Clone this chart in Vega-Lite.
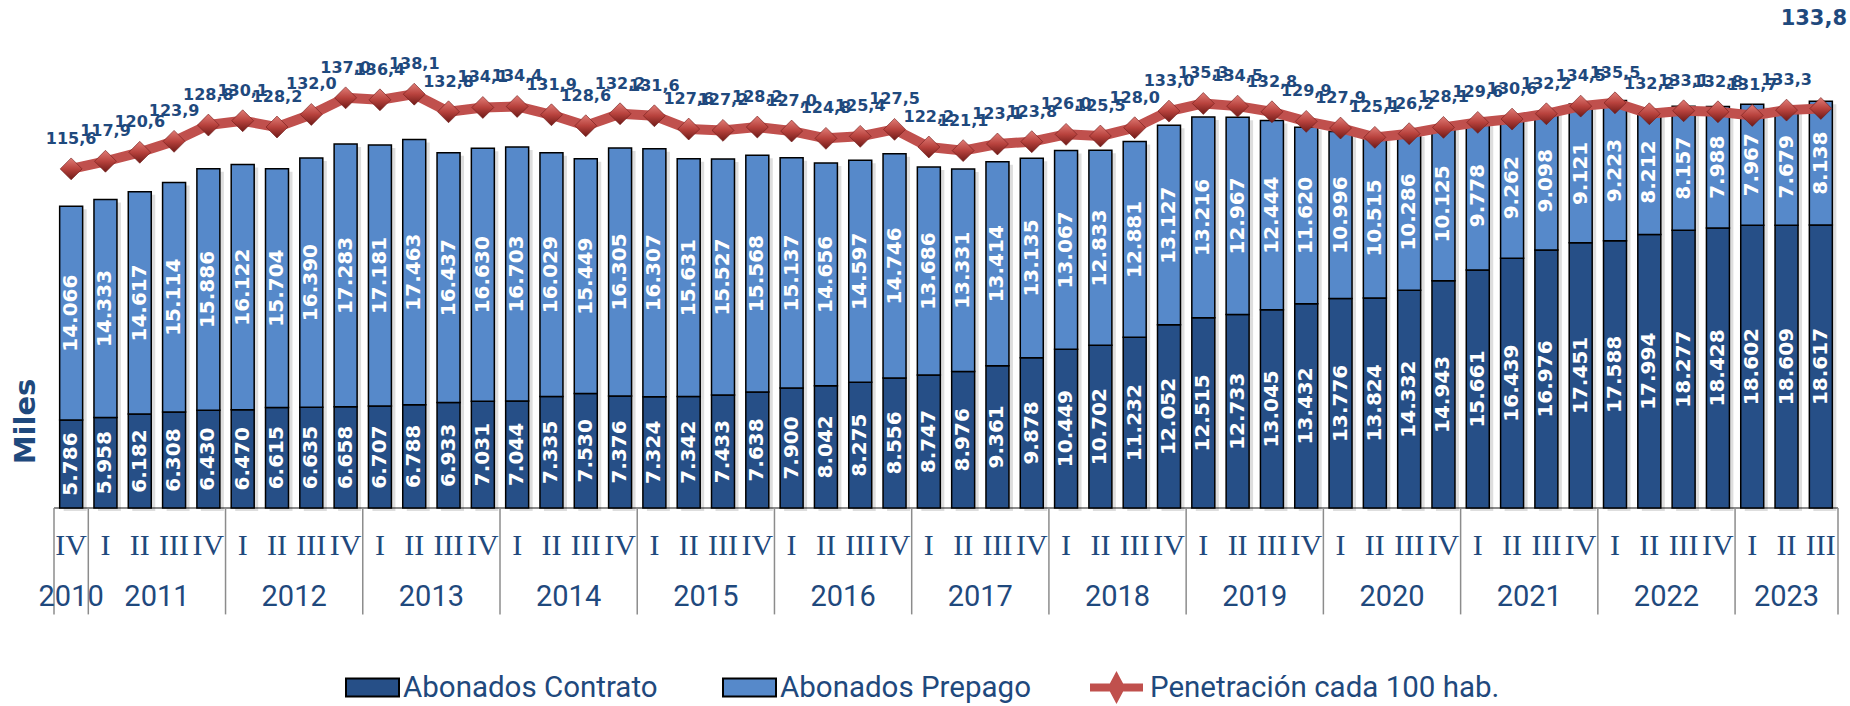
{
  "$schema": "https://vega.github.io/schema/vega-lite/v6.json",
  "width": 1784,
  "height": 456,
  "autosize": {"type": "none"},
  "padding": {"left": 54, "top": 52, "right": 12, "bottom": 198},
  "background": "white",
  "config": {
    "view": {"stroke": null},
    "locale": {"number": {"decimal": ",", "thousands": ".", "grouping": [3], "currency": ["", " €"]}}
  },
  "data": {"values": [
    {"id": "2010-IV", "year": "2010", "q": "IV", "Abonados Contrato": 5786, "Abonados Prepago": 14066, "pen": 115.6},
    {"id": "2011-I", "year": "2011", "q": "I", "Abonados Contrato": 5958, "Abonados Prepago": 14333, "pen": 117.9},
    {"id": "2011-II", "year": "2011", "q": "II", "Abonados Contrato": 6182, "Abonados Prepago": 14617, "pen": 120.6},
    {"id": "2011-III", "year": "2011", "q": "III", "Abonados Contrato": 6308, "Abonados Prepago": 15114, "pen": 123.9},
    {"id": "2011-IV", "year": "2011", "q": "IV", "Abonados Contrato": 6430, "Abonados Prepago": 15886, "pen": 128.8},
    {"id": "2012-I", "year": "2012", "q": "I", "Abonados Contrato": 6470, "Abonados Prepago": 16122, "pen": 130.1},
    {"id": "2012-II", "year": "2012", "q": "II", "Abonados Contrato": 6615, "Abonados Prepago": 15704, "pen": 128.2},
    {"id": "2012-III", "year": "2012", "q": "III", "Abonados Contrato": 6635, "Abonados Prepago": 16390, "pen": 132.0},
    {"id": "2012-IV", "year": "2012", "q": "IV", "Abonados Contrato": 6658, "Abonados Prepago": 17283, "pen": 137.0},
    {"id": "2013-I", "year": "2013", "q": "I", "Abonados Contrato": 6707, "Abonados Prepago": 17181, "pen": 136.4},
    {"id": "2013-II", "year": "2013", "q": "II", "Abonados Contrato": 6788, "Abonados Prepago": 17463, "pen": 138.1},
    {"id": "2013-III", "year": "2013", "q": "III", "Abonados Contrato": 6933, "Abonados Prepago": 16437, "pen": 132.8},
    {"id": "2013-IV", "year": "2013", "q": "IV", "Abonados Contrato": 7031, "Abonados Prepago": 16630, "pen": 134.1},
    {"id": "2014-I", "year": "2014", "q": "I", "Abonados Contrato": 7044, "Abonados Prepago": 16703, "pen": 134.4},
    {"id": "2014-II", "year": "2014", "q": "II", "Abonados Contrato": 7335, "Abonados Prepago": 16029, "pen": 131.9},
    {"id": "2014-III", "year": "2014", "q": "III", "Abonados Contrato": 7530, "Abonados Prepago": 15449, "pen": 128.6},
    {"id": "2014-IV", "year": "2014", "q": "IV", "Abonados Contrato": 7376, "Abonados Prepago": 16305, "pen": 132.2},
    {"id": "2015-I", "year": "2015", "q": "I", "Abonados Contrato": 7324, "Abonados Prepago": 16307, "pen": 131.6},
    {"id": "2015-II", "year": "2015", "q": "II", "Abonados Contrato": 7342, "Abonados Prepago": 15631, "pen": 127.6},
    {"id": "2015-III", "year": "2015", "q": "III", "Abonados Contrato": 7433, "Abonados Prepago": 15527, "pen": 127.2},
    {"id": "2015-IV", "year": "2015", "q": "IV", "Abonados Contrato": 7638, "Abonados Prepago": 15568, "pen": 128.2},
    {"id": "2016-I", "year": "2016", "q": "I", "Abonados Contrato": 7900, "Abonados Prepago": 15137, "pen": 127.0},
    {"id": "2016-II", "year": "2016", "q": "II", "Abonados Contrato": 8042, "Abonados Prepago": 14656, "pen": 124.8},
    {"id": "2016-III", "year": "2016", "q": "III", "Abonados Contrato": 8275, "Abonados Prepago": 14597, "pen": 125.4},
    {"id": "2016-IV", "year": "2016", "q": "IV", "Abonados Contrato": 8556, "Abonados Prepago": 14746, "pen": 127.5},
    {"id": "2017-I", "year": "2017", "q": "I", "Abonados Contrato": 8747, "Abonados Prepago": 13686, "pen": 122.2},
    {"id": "2017-II", "year": "2017", "q": "II", "Abonados Contrato": 8976, "Abonados Prepago": 13331, "pen": 121.1},
    {"id": "2017-III", "year": "2017", "q": "III", "Abonados Contrato": 9361, "Abonados Prepago": 13414, "pen": 123.1},
    {"id": "2017-IV", "year": "2017", "q": "IV", "Abonados Contrato": 9878, "Abonados Prepago": 13135, "pen": 123.8},
    {"id": "2018-I", "year": "2018", "q": "I", "Abonados Contrato": 10449, "Abonados Prepago": 13067, "pen": 126.0},
    {"id": "2018-II", "year": "2018", "q": "II", "Abonados Contrato": 10702, "Abonados Prepago": 12833, "pen": 125.5},
    {"id": "2018-III", "year": "2018", "q": "III", "Abonados Contrato": 11232, "Abonados Prepago": 12881, "pen": 128.0},
    {"id": "2018-IV", "year": "2018", "q": "IV", "Abonados Contrato": 12052, "Abonados Prepago": 13127, "pen": 133.0},
    {"id": "2019-I", "year": "2019", "q": "I", "Abonados Contrato": 12515, "Abonados Prepago": 13216, "pen": 135.3},
    {"id": "2019-II", "year": "2019", "q": "II", "Abonados Contrato": 12733, "Abonados Prepago": 12967, "pen": 134.5},
    {"id": "2019-III", "year": "2019", "q": "III", "Abonados Contrato": 13045, "Abonados Prepago": 12444, "pen": 132.8},
    {"id": "2019-IV", "year": "2019", "q": "IV", "Abonados Contrato": 13432, "Abonados Prepago": 11620, "pen": 129.9},
    {"id": "2020-I", "year": "2020", "q": "I", "Abonados Contrato": 13776, "Abonados Prepago": 10996, "pen": 127.9},
    {"id": "2020-II", "year": "2020", "q": "II", "Abonados Contrato": 13824, "Abonados Prepago": 10515, "pen": 125.1},
    {"id": "2020-III", "year": "2020", "q": "III", "Abonados Contrato": 14332, "Abonados Prepago": 10286, "pen": 126.2},
    {"id": "2020-IV", "year": "2020", "q": "IV", "Abonados Contrato": 14943, "Abonados Prepago": 10125, "pen": 128.1},
    {"id": "2021-I", "year": "2021", "q": "I", "Abonados Contrato": 15661, "Abonados Prepago": 9778, "pen": 129.6},
    {"id": "2021-II", "year": "2021", "q": "II", "Abonados Contrato": 16439, "Abonados Prepago": 9262, "pen": 130.6},
    {"id": "2021-III", "year": "2021", "q": "III", "Abonados Contrato": 16976, "Abonados Prepago": 9098, "pen": 132.2},
    {"id": "2021-IV", "year": "2021", "q": "IV", "Abonados Contrato": 17451, "Abonados Prepago": 9121, "pen": 134.5},
    {"id": "2022-I", "year": "2022", "q": "I", "Abonados Contrato": 17588, "Abonados Prepago": 9223, "pen": 135.5},
    {"id": "2022-II", "year": "2022", "q": "II", "Abonados Contrato": 17994, "Abonados Prepago": 8212, "pen": 132.2},
    {"id": "2022-III", "year": "2022", "q": "III", "Abonados Contrato": 18277, "Abonados Prepago": 8157, "pen": 133.1},
    {"id": "2022-IV", "year": "2022", "q": "IV", "Abonados Contrato": 18428, "Abonados Prepago": 7988, "pen": 132.8},
    {"id": "2023-I", "year": "2023", "q": "I", "Abonados Contrato": 18602, "Abonados Prepago": 7967, "pen": 131.7},
    {"id": "2023-II", "year": "2023", "q": "II", "Abonados Contrato": 18609, "Abonados Prepago": 7679, "pen": 133.3},
    {"id": "2023-III", "year": "2023", "q": "III", "Abonados Contrato": 18617, "Abonados Prepago": 8138, "pen": 133.8}
  ]},
  "resolve": {"scale": {"y": "independent"}},
  "layer": [
    {
      "mark": {"type": "rule", "color": "#8C8C8C", "strokeWidth": 1.5},
      "encoding": {
        "y": {
          "datum": 0, "type": "quantitative",
          "scale": {"domain": [0, 30000], "nice": false},
          "axis": {
            "title": "Miles", "labels": false, "ticks": false, "domain": false, "grid": false,
            "titleFont": "DejaVu Sans", "titleFontWeight": "bold", "titleFontSize": 29, "titleColor": "#1F497D",
            "titleX": -14, "titleY": 369
          }
        }
      }
    },
    {
      "layer": [
        {
          "transform": [{"fold": ["Abonados Contrato", "Abonados Prepago"], "as": ["serie", "v"]}],
          "layer": [
            {
              "mark": {"type": "bar", "width": {"band": 0.67}, "fill": "#000000", "opacity": 0.13, "xOffset": 4, "yOffset": 3},
              "encoding": {
                "x": {"field": "id", "type": "nominal", "sort": null, "scale": {"type": "band", "paddingInner": 0, "paddingOuter": 0}, "axis": null},
                "y": {"field": "v", "type": "quantitative", "stack": "zero", "scale": {"domain": [0, 30000], "nice": false}, "axis": null},
                "detail": {"field": "serie", "type": "nominal"},
                "order": {"field": "serie", "type": "nominal"}
              }
            },
            {
              "mark": {"type": "bar", "width": {"band": 0.67}, "stroke": "#000000", "strokeWidth": 1.5},
              "encoding": {
                "x": {"field": "id", "type": "nominal", "sort": null, "axis": null},
                "y": {"field": "v", "type": "quantitative", "stack": "zero", "axis": null},
                "color": {
                  "field": "serie", "type": "nominal",
                  "scale": {"domain": ["Abonados Contrato", "Abonados Prepago"], "range": ["#264F87", "#5689CA"]},
                  "legend": {
                    "orient": "none", "legendX": 291, "legendY": 608, "direction": "horizontal", "title": null,
                    "labelFont": "Roboto", "labelFontSize": 29.5, "labelColor": "#1F497D", "labelOffset": 3, "labelLimit": 0,
                    "symbolType": "M-1,-0.34H1V0.34H-1Z", "symbolSize": 2809, "columnPadding": 61, "padding": 0,
                    "symbolStrokeColor": "#000000", "symbolStrokeWidth": 2, "symbolOpacity": 1
                  }
                },
                "order": {"field": "serie", "type": "nominal"}
              }
            },
            {
              "mark": {"type": "text", "angle": 270, "color": "#FFFFFF", "font": "DejaVu Sans", "fontWeight": "bold", "fontSize": 20, "align": "center", "baseline": "middle"},
              "encoding": {
                "x": {"field": "id", "type": "nominal", "sort": null, "axis": null},
                "y": {"field": "v", "type": "quantitative", "stack": "zero", "bandPosition": 0.5, "axis": null},
                "detail": {"field": "serie", "type": "nominal"},
                "order": {"field": "serie", "type": "nominal"},
                "text": {"field": "v", "type": "quantitative", "format": ",d"}
              }
            }
          ]
        },
        {
          "transform": [{"filter": "datum.q == 'I' || datum.id == '2010-IV'"}],
          "mark": {"type": "rule", "color": "#8C8C8C", "strokeWidth": 1.5},
          "encoding": {
            "x": {"field": "id", "type": "nominal", "sort": null, "bandPosition": 0, "axis": null},
            "y": {"datum": 0, "type": "quantitative", "axis": null},
            "y2": {"datum": -7000}
          }
        },
        {
          "transform": [{"filter": "datum.id == '2023-III'"}],
          "mark": {"type": "rule", "color": "#8C8C8C", "strokeWidth": 1.5},
          "encoding": {
            "x": {"field": "id", "type": "nominal", "sort": null, "bandPosition": 1, "axis": null},
            "y": {"datum": 0, "type": "quantitative", "axis": null},
            "y2": {"datum": -7000}
          }
        },
        {
          "mark": {"type": "text", "font": "Liberation Serif", "fontSize": 30, "color": "#1F497D", "align": "center", "baseline": "middle"},
          "encoding": {
            "x": {"field": "id", "type": "nominal", "sort": null, "axis": null},
            "y": {"datum": -2500, "type": "quantitative", "axis": null},
            "text": {"field": "q", "type": "nominal"}
          }
        },
        {
          "transform": [{"filter": "datum.q == 'II' && datum.year != '2023'"}],
          "mark": {"type": "text", "font": "Roboto", "fontSize": 29, "color": "#1F497D", "align": "center", "baseline": "middle"},
          "encoding": {
            "x": {"field": "id", "type": "nominal", "sort": null, "bandPosition": 1, "axis": null},
            "y": {"datum": -5850, "type": "quantitative", "axis": null},
            "text": {"field": "year", "type": "nominal"}
          }
        },
        {
          "transform": [{"filter": "datum.id == '2010-IV' || datum.id == '2023-II'"}],
          "mark": {"type": "text", "font": "Roboto", "fontSize": 29, "color": "#1F497D", "align": "center", "baseline": "middle"},
          "encoding": {
            "x": {"field": "id", "type": "nominal", "sort": null, "axis": null},
            "y": {"datum": -5850, "type": "quantitative", "axis": null},
            "text": {"field": "year", "type": "nominal"}
          }
        }
      ]
    },
    {
      "layer": [
        {
          "mark": {"type": "line", "strokeWidth": 10, "strokeJoin": "round"},
          "encoding": {
            "x": {"field": "id", "type": "nominal", "sort": null, "axis": null},
            "y": {"field": "pen", "type": "quantitative", "scale": {"domain": [13.5, 150.8], "nice": false, "zero": false}, "axis": null},
            "stroke": {
              "datum": "Penetración cada 100 hab.", "type": "nominal",
              "scale": {"range": ["#C0504D"]},
              "legend": {
                "orient": "none", "legendX": 1032, "legendY": 605, "direction": "horizontal", "title": null,
                "labelFont": "Roboto", "labelFontSize": 29.5, "labelColor": "#1F497D", "labelOffset": 3, "labelLimit": 0,
                "symbolType": "M-1,0H1M0,-0.3L0.16,0L0,0.3L-0.16,0Z", "symbolSize": 2809, "symbolStrokeWidth": 8, "padding": 0, "symbolOpacity": 1
              }
            }
          }
        },
        {
          "mark": {
            "type": "point", "shape": "diamond", "filled": true, "size": 480, "opacity": 1,
            "fill": {"gradient": "linear", "x1": 0, "y1": 0, "x2": 0, "y2": 1, "stops": [{"offset": 0, "color": "#E07C76"}, {"offset": 0.5, "color": "#B8423D"}, {"offset": 1, "color": "#6E1A17"}]},
            "stroke": "#6E1A17", "strokeWidth": 0.6
          },
          "encoding": {
            "x": {"field": "id", "type": "nominal", "sort": null, "axis": null},
            "y": {"field": "pen", "type": "quantitative", "axis": null}
          }
        },
        {
          "transform": [{"filter": "datum.id != '2023-III'"}],
          "mark": {"type": "text", "dy": -30, "font": "DejaVu Sans", "fontWeight": "bold", "fontSize": 16, "color": "#1F497D", "align": "center", "baseline": "middle"},
          "encoding": {
            "x": {"field": "id", "type": "nominal", "sort": null, "axis": null},
            "y": {"field": "pen", "type": "quantitative", "axis": null},
            "text": {"field": "pen", "type": "quantitative", "format": ".1f"}
          }
        },
        {
          "transform": [{"filter": "datum.id == '2023-III'"}],
          "mark": {"type": "text", "dy": -89, "dx": -7, "font": "DejaVu Sans", "fontWeight": "bold", "fontSize": 21, "color": "#1F497D", "align": "center", "baseline": "middle"},
          "encoding": {
            "x": {"field": "id", "type": "nominal", "sort": null, "axis": null},
            "y": {"field": "pen", "type": "quantitative", "axis": null},
            "text": {"field": "pen", "type": "quantitative", "format": ".1f"}
          }
        }
      ]
    }
  ]
}
